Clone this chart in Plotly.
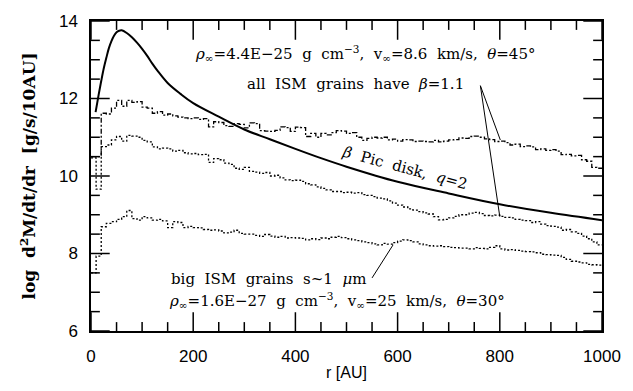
import plotly.graph_objects as go

# ---- data ----
bin_edges = [i * 10 for i in range(101)]  # r [AU], 10 AU bins

beta11_a = [10.5, 10.5, 11.62, 11.6, 11.75, 11.95, 11.8, 11.95, 11.9, 11.92,
            11.78, 11.75, 11.62, 11.66, 11.57, 11.6, 11.55, 11.52, 11.5, 11.48,
            11.5, 11.46, 11.48, 11.27, 11.4, 11.38, 11.3, 11.28, 11.35, 11.33,
            11.24, 11.37, 11.35, 11.17, 11.16, 11.15, 11.18, 11.27, 11.25, 11.15,
            11.26, 11.25, 11.02, 11.1, 11.0, 11.1, 11.06, 11.12, 11.17, 11.16,
            11.1, 11.12, 11.0, 10.92, 10.97, 11.0, 10.98, 11.0, 10.93, 10.95,
            10.9, 10.94, 10.93, 10.89, 10.9, 10.89, 10.88, 10.92, 10.88, 10.9,
            10.93, 10.94, 10.98, 10.97, 11.02, 11.03, 11.0, 10.96, 10.94, 10.89,
            10.9, 10.86, 10.8, 10.82, 10.76, 10.78, 10.75, 10.68, 10.7, 10.66,
            10.68, 10.64, 10.55, 10.56, 10.52, 10.53, 10.42, 10.38, 10.22, 10.2]

beta11_b = [10.47, 9.66, 10.76, 10.8, 10.93, 11.02, 10.9, 11.05, 11.03, 11.0,
            10.92, 10.88, 10.75, 10.7, 10.72, 10.7, 10.64, 10.66, 10.6, 10.57,
            10.58, 10.55, 10.56, 10.35, 10.45, 10.42, 10.33, 10.3, 10.2, 10.17,
            10.22, 10.12, 10.1, 10.07, 10.09, 10.0, 10.02, 9.95, 9.9, 9.88,
            9.89, 9.86, 9.8, 9.77, 9.72, 9.68, 9.64, 9.6, 9.6, 9.57,
            9.58, 9.56, 9.57, 9.52, 9.5, 9.47, 9.43, 9.41, 9.36, 9.3,
            9.25, 9.2, 9.15, 9.12, 9.08, 9.05, 9.02, 8.95, 8.87, 8.88,
            8.92, 8.96, 9.0, 9.0, 9.04, 9.06, 9.03, 8.98, 8.97, 8.99,
            8.96, 8.93, 8.92, 8.88, 8.86, 8.85, 8.8, 8.82, 8.76, 8.72,
            8.7, 8.68, 8.6, 8.62, 8.56, 8.52, 8.45, 8.38, 8.3, 8.22]

big_grains = [7.5, 7.93, 8.69, 8.78, 8.82, 8.88, 8.95, 9.11, 8.9, 8.86,
              8.95, 8.92, 8.86, 8.88, 8.84, 8.67, 8.82, 8.8, 8.67, 8.7,
              8.67, 8.66, 8.62, 8.6, 8.61, 8.58, 8.53, 8.55, 8.6, 8.52,
              8.5, 8.5, 8.47, 8.44, 8.49, 8.45, 8.42, 8.44, 8.4, 8.41,
              8.4, 8.39, 8.35, 8.38, 8.36, 8.4, 8.38, 8.42, 8.44, 8.41,
              8.38, 8.35, 8.33, 8.3, 8.28, 8.25, 8.22, 8.26, 8.24, 8.28,
              8.32, 8.35, 8.33, 8.3, 8.25, 8.22, 8.2, 8.19, 8.2, 8.18,
              8.16, 8.15, 8.14, 8.14, 8.12, 8.15, 8.13, 8.12, 8.16, 8.2,
              8.12, 8.09, 8.1, 8.08, 8.06, 8.05, 8.04, 8.02, 7.98, 7.97,
              7.96, 7.95, 7.9, 7.85, 7.8, 7.78, 7.76, 7.72, 7.71, 7.7]

disk_r = [9, 15, 20, 25, 30, 35, 40, 45, 50, 55, 60, 70, 80, 90, 100, 110, 120,
          130, 150, 175, 200, 250, 300, 350, 400, 450, 500, 600, 700, 800, 900, 1000]
disk_y = [11.65, 12.1, 12.45, 12.78, 13.05, 13.3, 13.48, 13.62, 13.71, 13.75, 13.76,
          13.69, 13.58, 13.44, 13.28, 13.1, 12.9, 12.72, 12.4, 12.12, 11.88, 11.53,
          11.2, 10.95, 10.7, 10.46, 10.24, 9.85, 9.55, 9.27, 9.05, 8.86]

x_ticks = [0, 200, 400, 600, 800, 1000]
y_ticks = [6, 8, 10, 12, 14]
x_minor_step = 50
y_minor_step = 0.5

# pointer lines (label -> curve), data coords
pointers = [
    (762, 12.33, 801, 10.93),
    (762, 12.33, 800, 8.95),
    (550, 7.37, 591, 8.22),
]


def step(v):
    return v + [v[-1]]


SERIF = "DejaVu Serif"
SANS = "Liberation Sans"
NB = "\u00a0"

W, H = 633, 391
M = dict(l=91, r=23, t=20, b=57)
MAJOR_LEN, MINOR_LEN = 19, 9  # tick lengths in px

xr = [x_ticks[0], x_ticks[-1]]
yr = [y_ticks[0], y_ticks[-1]]
x_per_px = (xr[1] - xr[0]) / (W - M["l"] - M["r"])
y_per_px = (yr[1] - yr[0]) / (H - M["t"] - M["b"])


def minor_vals(major, stepv):
    n = int(round((major[-1] - major[0]) / stepv))
    out = [major[0] + k * stepv for k in range(n + 1)]
    return [v for v in out if all(abs(v - m) > 1e-9 for m in major)]


fig = go.Figure()
fig.add_trace(go.Scatter(x=bin_edges, y=step(beta11_a), mode="lines", hoverinfo="skip",
                         line=dict(shape="hv", color="black", width=1.3, dash="5px,2px,2px,2px")))
fig.add_trace(go.Scatter(x=bin_edges, y=step(beta11_b), mode="lines", hoverinfo="skip",
                         line=dict(shape="hv", color="black", width=1.3, dash="2px,2px")))
fig.add_trace(go.Scatter(x=bin_edges, y=step(big_grains), mode="lines", hoverinfo="skip",
                         line=dict(shape="hv", color="black", width=1.3, dash="2px,2px")))
fig.add_trace(go.Scatter(x=disk_r, y=disk_y, mode="lines", line_shape="spline", hoverinfo="skip",
                         line=dict(color="black", width=2)))

# ---- inside tick marks on all four sides, drawn through the axes' own scales ----
tx, ty = [], []
for vals, ln in [(x_ticks, MAJOR_LEN), (minor_vals(x_ticks, x_minor_step), MINOR_LEN)]:
    dy = ln * y_per_px
    for v in vals:
        tx += [v, v, None, v, v, None]
        ty += [yr[0], yr[0] + dy, None, yr[1], yr[1] - dy, None]
for vals, ln in [(y_ticks, MAJOR_LEN), (minor_vals(y_ticks, y_minor_step), MINOR_LEN)]:
    dx = ln * x_per_px
    for v in vals:
        tx += [xr[0], xr[0] + dx, None, xr[1], xr[1] - dx, None]
        ty += [v, v, None, v, v, None]
fig.add_trace(go.Scatter(x=tx, y=ty, mode="lines", hoverinfo="skip", connectgaps=False,
                         line=dict(color="black", width=1.5)))

for x0, y0, x1, y1 in pointers:
    fig.add_shape(type="line", xref="x", yref="y", x0=x0, y0=y0, x1=x1, y1=y1,
                  line=dict(color="black", width=1))

tfont = dict(family=SERIF, size=15, color="black")
sp = NB * 2
fig.add_annotation(x=200, y=13.15, xref="x", yref="y", xanchor="left", showarrow=False, font=tfont,
                   text=f"<i>ρ</i><sub>∞</sub>=4.4E−25{sp}g{sp}cm<sup>−3</sup>,{sp}v<sub>∞</sub>=8.6{sp}km/s,{sp}<i>θ</i>=45°")
fig.add_annotation(x=302, y=12.38, xref="x", yref="y", xanchor="left", showarrow=False, font=tfont,
                   text=f"all{sp}ISM{sp}grains{sp}have{sp}<i>β</i>=1.1")
fig.add_annotation(x=614, y=10.2, xref="x", yref="y", xanchor="center", showarrow=False, font=tfont,
                   textangle=15, text=f"<i>β</i>{sp}Pic{sp}disk,{sp}<i>q</i>=2")
fig.add_annotation(x=152, y=7.35, xref="x", yref="y", xanchor="left", showarrow=False, font=tfont,
                   text=f"big{sp}ISM{sp}grains{sp}s~1{sp}<i>μ</i>m")
fig.add_annotation(x=148, y=6.79, xref="x", yref="y", xanchor="left", showarrow=False, font=tfont,
                   text=f"<i>ρ</i><sub>∞</sub>=1.6E−27{sp}g{sp}cm<sup>−3</sup>,{sp}v<sub>∞</sub>=25{sp}km/s,{sp}<i>θ</i>=30°")

fig.update_layout(
    width=W, height=H,
    margin=M,
    paper_bgcolor="white", plot_bgcolor="white",
    showlegend=False,
    xaxis=dict(range=xr, tickvals=x_ticks,
               showline=True, linecolor="black", linewidth=1.5, mirror=True,
               ticks="", showgrid=False, zeroline=False, ticklabelstandoff=9,
               tickfont=dict(family=SANS, size=17, color="black"),
               title=dict(text="r [AU]", font=dict(family=SANS, size=16, color="black"), standoff=2)),
    yaxis=dict(range=yr, tickvals=y_ticks,
               showline=True, linecolor="black", linewidth=1.5, mirror=True,
               ticks="", showgrid=False, zeroline=False, ticklabelstandoff=8,
               tickfont=dict(family=SANS, size=17, color="black"),
               title=dict(text=f"<b>log{sp}d<sup>2</sup>M/dt/dr{sp}[g/s/10AU]</b>",
                          font=dict(family=SERIF, size=17, color="black"), standoff=19)),
)

fig.write_html("out.html")
